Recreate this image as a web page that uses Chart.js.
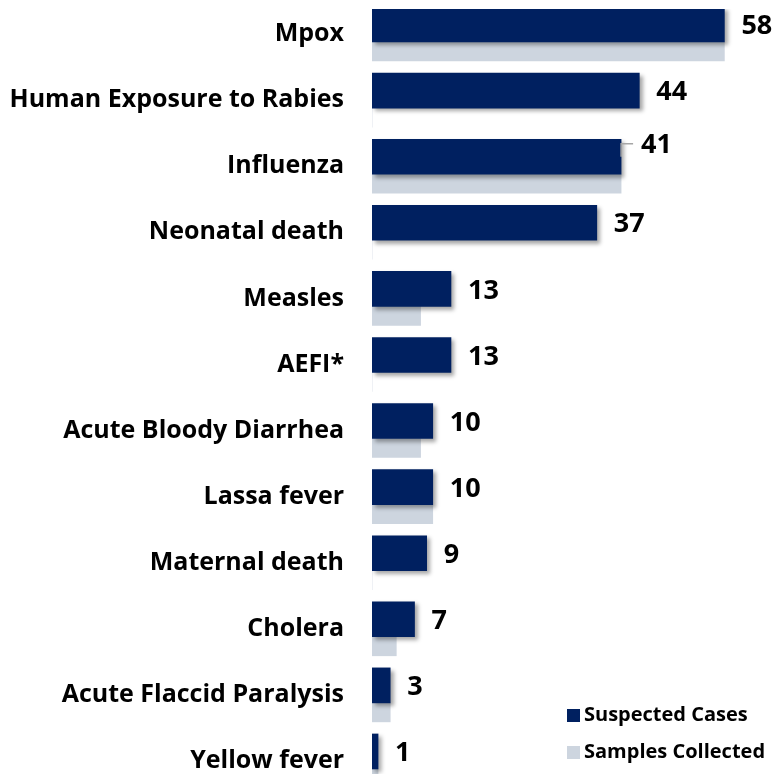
<!DOCTYPE html>
<html>
<head>
<meta charset="utf-8">
<script src="https://cdn.jsdelivr.net/npm/chart.js@4/dist/chart.umd.min.js"></script>
<style>
  html, body { margin: 0; padding: 0; background: #fff; overflow: hidden; }
  #wrap { position: relative; width: 774px; height: 802px; }
</style>
</head>
<body>
<div id="wrap"><canvas id="chart"></canvas></div>
<script>
const categories = ['Mpox', 'Human Exposure to Rabies', 'Influenza', 'Neonatal death', 'Measles', 'AEFI*',
  'Acute Bloody Diarrhea', 'Lassa fever', 'Maternal death', 'Cholera', 'Acute Flaccid Paralysis', 'Yellow fever'];
const suspectedCases = [58, 44, 41, 37, 13, 13, 10, 10, 9, 7, 3, 1];
const samplesCollected = [58, 0, 41, 0, 8, 0, 8, 10, 0, 4, 3, 1];

const FONT = '"Open Sans", "Noto Sans", sans-serif';
const NAVY = '#002060';
const GREY = '#cdd5df';

// shadow under the dark bars only
const barShadow = {
  id: 'barShadow',
  beforeDatasetDraw(chart, args) {
    if (args.index !== 0) return;
    const ctx = chart.ctx;
    ctx.save();
    ctx.shadowColor = 'rgba(0,0,0,0.35)';
    ctx.shadowBlur = 4;
    ctx.shadowOffsetX = 3;
    ctx.shadowOffsetY = 3;
  },
  afterDatasetDraw(chart, args) {
    if (args.index === 0) chart.ctx.restore();
  }
};

// value labels for suspected cases (the Influenza one sits a bit higher, with a leader line)
const valueLabels = {
  id: 'valueLabels',
  afterDatasetsDraw(chart) {
    const ctx = chart.ctx;
    const meta = chart.getDatasetMeta(0);
    ctx.save();
    ctx.font = 'bold 27px ' + FONT;
    ctx.textAlign = 'left';
    ctx.textBaseline = 'middle';
    meta.data.forEach((bar, i) => {
      let dx = 17, dy = 2;
      if (categories[i] === 'Influenza') {
        dx = 20; dy = -11;
        ctx.strokeStyle = '#a6a6a6';
        ctx.lineWidth = 1.5;
        ctx.beginPath();
        ctx.moveTo(bar.x, bar.y);
        ctx.lineTo(bar.x, bar.y - 13);
        ctx.lineTo(bar.x + 12, bar.y - 13);
        ctx.stroke();
      }
      ctx.fillStyle = '#000';
      ctx.fillText(String(suspectedCases[i]), bar.x + dx, bar.y + dy);
    });
    ctx.restore();
  }
};

// legend in the lower right corner
const cornerLegend = {
  id: 'cornerLegend',
  afterDraw(chart) {
    const ctx = chart.ctx;
    ctx.save();
    ctx.font = 'bold 20px ' + FONT;
    ctx.textBaseline = 'middle';
    ctx.textAlign = 'left';
    chart.data.datasets.forEach((ds, i) => {
      const y = 709 + i * 37;
      ctx.fillStyle = ds.backgroundColor;
      ctx.fillRect(567, y, 13, 13);
      ctx.fillStyle = '#000';
      ctx.fillText(ds.label, 584, y + 6);
    });
    ctx.restore();
  }
};

new Chart(document.getElementById('chart'), {
  type: 'bar',
  data: {
    labels: categories,
    datasets: [
      {
        label: 'Suspected Cases',
        data: suspectedCases,
        backgroundColor: NAVY,
        barThickness: 35
      },
      {
        label: 'Samples Collected',
        data: samplesCollected,
        backgroundColor: GREY,
        barThickness: 19
      }
    ]
  },
  options: {
    indexAxis: 'y',
    responsive: true,
    maintainAspectRatio: false,
    animation: false,
    layout: { padding: { top: 9, right: 1, bottom: 0, left: 0 } },
    plugins: {
      legend: { display: false },
      tooltip: { enabled: false }
    },
    scales: {
      x: {
        display: false,
        min: 0,
        max: 66
      },
      y: {
        grid: { display: false },
        border: { display: false },
        ticks: {
          color: '#000',
          padding: 20,
          labelOffset: -8,
          font: { family: FONT, size: 25, weight: 'bold' }
        },
        afterFit(scale) {
          scale.width = 372;
          scale.paddingTop = 0;
          scale.paddingBottom = 0;
        }
      }
    }
  },
  plugins: [barShadow, valueLabels, cornerLegend]
});
</script>
</body>
</html>
